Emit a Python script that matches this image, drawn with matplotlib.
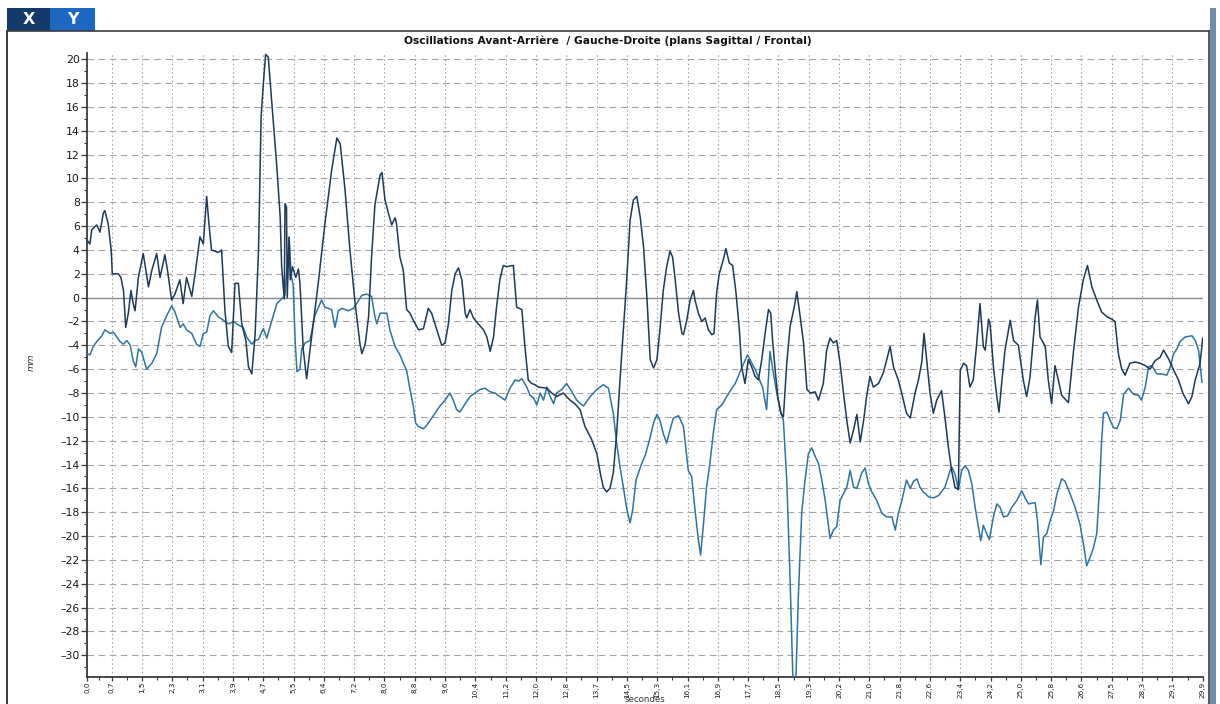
import numpy as np
import matplotlib
matplotlib.use("Agg")
import matplotlib.pyplot as plt
from matplotlib.patches import Rectangle
from matplotlib.lines import Line2D
from matplotlib.ticker import FixedLocator, MultipleLocator

plt.rcParams["font.family"] = ["DejaVu Sans"]

W, H = 1220, 704

# Antero-posterior trace (dark) : time in s, displacement in mm
t_sag = [0.00, 0.07, 0.12, 0.25, 0.34, 0.43, 0.47, 0.56, 0.64, 0.67, 0.83, 0.90, 0.97, 1.03, 1.10,
         1.17, 1.23, 1.28, 1.37, 1.50, 1.64, 1.73, 1.86, 1.95, 2.08, 2.15, 2.26, 2.35, 2.48, 2.57,
         2.66, 2.80, 2.89, 3.02, 3.11, 3.20, 3.26, 3.33, 3.51, 3.60, 3.69, 3.78, 3.87, 3.96, 4.05,
         4.14, 4.25, 4.32, 4.41, 4.50, 4.59, 4.66, 4.72, 4.78, 4.85, 4.94, 5.08, 5.17, 5.21, 5.28,
         5.30, 5.34, 5.36, 5.41, 5.44, 5.50, 5.59, 5.66, 5.70, 5.79, 5.88, 5.97, 6.19, 6.37, 6.55,
         6.69, 6.78, 6.91, 7.04, 7.18, 7.31, 7.36, 7.45, 7.54, 7.62, 7.71, 7.85, 7.90, 7.98, 8.07,
         8.16, 8.25, 8.29, 8.38, 8.47, 8.56, 8.65, 8.74, 8.88, 9.01, 9.14, 9.23, 9.37, 9.50, 9.59,
         9.68, 9.77, 9.86, 9.95, 10.04, 10.13, 10.17, 10.26, 10.35, 10.48, 10.62, 10.71, 10.80, 10.89, 10.97,
         11.06, 11.15, 11.24, 11.42, 11.51, 11.65, 11.73, 11.82, 11.91, 12.00, 12.09, 12.32, 12.45, 12.58, 12.76,
         12.94, 13.07, 13.21, 13.34, 13.52, 13.66, 13.75, 13.83, 13.92, 14.01, 14.10, 14.19, 14.28, 14.37, 14.46,
         14.55, 14.64, 14.73, 14.82, 14.91, 15.00, 15.09, 15.18, 15.27, 15.35, 15.44, 15.53, 15.62, 15.69, 15.76,
         15.85, 15.94, 15.98, 16.07, 16.16, 16.25, 16.29, 16.38, 16.47, 16.56, 16.65, 16.74, 16.80, 16.87, 16.94,
         17.05, 17.12, 17.21, 17.30, 17.39, 17.48, 17.54, 17.63, 17.72, 17.81, 17.90, 17.99, 18.08, 18.17, 18.26,
         18.32, 18.37, 18.44, 18.51, 18.59, 18.66, 18.75, 18.84, 18.95, 19.02, 19.11, 19.20, 19.29, 19.38, 19.51,
         19.60, 19.73, 19.82, 19.91, 20.00, 20.09, 20.18, 20.27, 20.36, 20.45, 20.54, 20.63, 20.72, 20.81, 20.89,
         20.98, 21.07, 21.21, 21.34, 21.43, 21.52, 21.61, 21.74, 21.83, 21.96, 22.06, 22.19, 22.28, 22.37, 22.43,
         22.50, 22.59, 22.68, 22.77, 22.90, 23.00, 23.08, 23.17, 23.26, 23.35, 23.40, 23.49, 23.57, 23.66, 23.75,
         23.84, 23.93, 24.02, 24.07, 24.16, 24.20, 24.29, 24.38, 24.44, 24.51, 24.60, 24.74, 24.83, 24.96, 25.09,
         25.18, 25.27, 25.41, 25.47, 25.54, 25.68, 25.76, 25.85, 25.94, 26.03, 26.12, 26.30, 26.44, 26.57, 26.70,
         26.81, 26.93, 27.06, 27.19, 27.33, 27.46, 27.55, 27.64, 27.73, 27.82, 27.95, 28.09, 28.22, 28.36, 28.49,
         28.62, 28.76, 28.85, 28.98, 29.11, 29.25, 29.38, 29.52, 29.61, 29.70, 29.83, 29.90]
v_sag = [4.8, 4.5, 5.7, 6.1, 5.5, 7.1, 7.3, 6.2, 4.0, 2.0, 2.0, 1.7, 0.6, -2.5, -1.3,
         0.6, -0.5, -1.1, 1.7, 3.7, 0.9, 2.3, 3.7, 1.7, 3.6, 2.3, -0.2, 0.3, 1.5, -0.5,
         1.7, 0.1, 2.0, 5.1, 4.5, 8.5, 6.2, 4.0, 3.8, 4.0, -1.1, -4.1, -4.6, 1.2, 1.2,
         -2.2, -3.6, -5.8, -6.4, -3.0, 4.0, 15.2, 18.0, 20.4, 20.2, 16.6, 11.0, 6.8, 2.6, -0.1,
         7.9, 7.6, 0.0, 5.1, 1.5, 2.6, 1.7, 2.4, 1.2, -4.4, -6.8, -4.4, 1.2, 6.2, 10.7,
         13.4, 12.9, 9.0, 4.0, -0.5, -3.9, -4.7, -3.9, -1.6, 3.4, 7.8, 10.3, 10.5, 8.2, 7.1,
         6.1, 6.7, 6.2, 3.4, 2.3, -1.0, -1.3, -1.9, -2.7, -2.6, -0.9, -1.3, -2.7, -4.0, -3.8,
         -2.2, 0.6, 2.0, 2.5, 1.5, -1.3, -1.7, -1.0, -1.7, -2.2, -2.7, -3.3, -4.5, -3.3, -0.8,
         1.5, 2.7, 2.6, 2.7, -0.8, -1.0, -4.1, -6.9, -7.2, -7.3, -7.5, -7.6, -8.0, -8.3, -8.0,
         -8.6, -8.9, -9.4, -10.8, -11.9, -13.1, -14.7, -15.9, -16.3, -16.0, -14.7, -11.4, -6.9, -2.7, 1.5,
         6.5, 8.2, 8.5, 6.8, 4.3, 0.1, -5.2, -5.9, -5.2, -2.7, 0.6, 2.6, 3.9, 3.4, 1.5,
         -1.3, -3.0, -3.1, -1.9, -0.2, 0.6, -0.2, -1.3, -2.0, -1.7, -2.7, -3.1, -3.0, 0.4, 2.0,
         3.2, 4.1, 2.9, 2.7, 0.4, -2.7, -5.8, -7.2, -5.2, -5.8, -6.6, -6.9, -5.2, -3.0, -1.0,
         -1.3, -3.6, -6.1, -8.3, -9.7, -10.0, -5.5, -2.4, -0.8, 0.5, -1.6, -3.8, -7.7, -8.0, -7.9,
         -8.6, -7.2, -4.4, -3.4, -3.8, -3.6, -5.5, -8.0, -10.3, -12.2, -11.1, -9.8, -12.1, -10.3, -8.3,
         -6.6, -7.5, -7.2, -6.3, -5.2, -4.1, -5.8, -6.9, -8.0, -9.7, -10.1, -8.0, -6.9, -5.4, -3.0,
         -5.2, -8.0, -9.7, -8.6, -7.8, -10.3, -12.5, -14.5, -15.9, -16.1, -6.1, -5.5, -5.7, -7.5, -6.9,
         -3.9, -0.5, -4.1, -4.4, -1.8, -2.2, -5.8, -8.3, -9.6, -7.2, -4.4, -1.9, -3.6, -4.0, -6.9,
         -8.3, -6.7, -1.6, -0.2, -3.3, -4.1, -6.9, -8.9, -5.7, -6.9, -8.2, -8.8, -4.4, -0.8, 1.5,
         2.7, 0.9, -0.2, -1.2, -1.6, -1.8, -2.0, -4.7, -6.0, -6.5, -5.5, -5.4, -5.5, -5.7, -6.0,
         -5.3, -5.0, -4.4, -5.1, -6.0, -6.9, -8.1, -8.9, -8.3, -6.9, -5.5, -3.4]

# Medio-lateral trace (light) : time in s, displacement in mm
t_front = [0.00, 0.07, 0.16, 0.25, 0.39, 0.47, 0.61, 0.70, 0.79, 0.88, 0.97, 1.06, 1.15, 1.23, 1.30,
           1.37, 1.46, 1.59, 1.73, 1.86, 1.99, 2.13, 2.26, 2.35, 2.49, 2.57, 2.66, 2.80, 2.93, 3.02,
           3.11, 3.20, 3.29, 3.38, 3.51, 3.65, 3.78, 3.92, 4.05, 4.18, 4.27, 4.41, 4.50, 4.59, 4.72,
           4.81, 4.94, 5.08, 5.21, 5.30, 5.36, 5.41, 5.46, 5.52, 5.57, 5.62, 5.70, 5.75, 5.84, 5.97,
           6.10, 6.28, 6.37, 6.55, 6.64, 6.73, 6.82, 7.00, 7.13, 7.22, 7.36, 7.49, 7.62, 7.71, 7.76,
           7.85, 8.03, 8.11, 8.25, 8.38, 8.47, 8.56, 8.65, 8.74, 8.80, 8.87, 9.01, 9.10, 9.19, 9.32,
           9.45, 9.59, 9.72, 9.81, 9.90, 9.99, 10.13, 10.26, 10.39, 10.53, 10.66, 10.80, 10.93, 11.06, 11.20,
           11.33, 11.47, 11.56, 11.65, 11.78, 11.87, 11.96, 12.05, 12.14, 12.23, 12.32, 12.41, 12.50, 12.58, 12.72,
           12.85, 12.99, 13.12, 13.30, 13.48, 13.66, 13.83, 13.97, 14.10, 14.19, 14.28, 14.37, 14.46, 14.55, 14.62,
           14.71, 14.85, 14.96, 15.09, 15.18, 15.27, 15.35, 15.44, 15.53, 15.62, 15.71, 15.85, 15.98, 16.11, 16.20,
           16.29, 16.38, 16.44, 16.52, 16.60, 16.69, 16.78, 16.87, 17.01, 17.14, 17.28, 17.37, 17.45, 17.54, 17.70,
           17.90, 18.10, 18.21, 18.30, 18.40, 18.50, 18.60, 18.66, 18.75, 18.84, 18.91, 18.95, 19.00, 19.06, 19.15,
           19.24, 19.33, 19.42, 19.51, 19.60, 19.69, 19.78, 19.87, 19.91, 20.00, 20.09, 20.18, 20.36, 20.45, 20.54,
           20.63, 20.76, 20.85, 20.94, 21.03, 21.16, 21.30, 21.43, 21.57, 21.66, 21.74, 21.83, 21.96, 22.06, 22.15,
           22.24, 22.32, 22.41, 22.55, 22.68, 22.82, 22.99, 23.13, 23.17, 23.26, 23.35, 23.44, 23.53, 23.62, 23.71,
           23.80, 23.89, 23.95, 24.02, 24.11, 24.18, 24.29, 24.38, 24.47, 24.56, 24.67, 24.78, 24.92, 25.05, 25.14,
           25.23, 25.41, 25.47, 25.56, 25.63, 25.72, 25.81, 25.90, 25.99, 26.12, 26.21, 26.35, 26.48, 26.61, 26.72,
           26.79, 26.88, 26.97, 27.06, 27.13, 27.19, 27.24, 27.33, 27.42, 27.51, 27.60, 27.69, 27.78, 27.91, 28.04,
           28.18, 28.26, 28.36, 28.45, 28.54, 28.67, 28.80, 28.94, 29.03, 29.12, 29.21, 29.29, 29.43, 29.61, 29.70,
           29.79, 29.88]
v_front = [-4.7, -4.8, -4.1, -3.7, -3.2, -2.7, -3.0, -2.9, -3.3, -3.7, -3.9, -3.6, -4.0, -5.3, -5.8,
           -4.3, -4.6, -6.0, -5.5, -4.7, -2.5, -1.5, -0.7, -1.2, -2.5, -2.2, -2.7, -3.0, -3.9, -4.1,
           -3.0, -2.9, -1.5, -1.1, -1.6, -1.9, -2.2, -2.0, -2.3, -2.5, -3.3, -3.9, -3.6, -3.5, -2.6,
           -3.4, -2.0, -0.5, -0.1, 0.2, 3.0, 5.0, 2.0, 1.0, -3.5, -6.2, -6.0, -4.3, -3.8, -3.6,
           -1.5, -0.2, -0.8, -1.0, -2.5, -1.1, -0.9, -1.1, -0.9, -0.5, 0.2, 0.3, 0.1, -1.6, -2.2,
           -1.3, -1.3, -2.7, -4.1, -4.8, -5.5, -6.1, -7.7, -9.1, -10.5, -10.8, -11.0, -10.7, -10.3, -9.7,
           -9.1, -8.6, -8.0, -8.6, -9.4, -9.6, -8.9, -8.3, -8.0, -7.7, -7.6, -7.9, -8.0, -8.3, -8.6,
           -7.6, -6.9, -7.0, -6.8, -7.5, -8.2, -8.4, -9.0, -8.0, -8.6, -7.5, -8.3, -8.9, -8.0, -7.7,
           -7.2, -7.9, -8.6, -9.1, -8.3, -7.7, -7.3, -7.6, -9.7, -12.2, -14.2, -15.9, -17.7, -18.9, -17.8,
           -15.3, -14.0, -13.2, -11.7, -10.5, -9.8, -10.3, -11.4, -12.2, -11.1, -10.1, -9.9, -10.8, -14.5, -15.0,
           -17.8, -20.3, -21.6, -18.9, -15.9, -13.9, -11.4, -9.4, -9.0, -8.3, -7.6, -7.2, -6.6, -5.9, -4.8,
           -6.0, -7.5, -9.4, -4.5, -6.5, -8.3, -9.7, -10.3, -15.3, -23.7, -31.5, -33.0, -31.5, -25.1, -18.1,
           -15.3, -13.1, -12.6, -13.3, -13.9, -15.3, -17.0, -19.2, -20.2, -19.5, -19.2, -17.0, -15.9, -14.5, -15.9,
           -16.0, -14.7, -14.3, -15.6, -16.3, -17.0, -18.1, -18.4, -18.4, -19.5, -18.1, -17.1, -15.3, -16.0, -15.4,
           -15.2, -15.9, -16.3, -16.7, -16.8, -16.6, -15.9, -14.5, -14.2, -14.8, -16.1, -14.5, -14.1, -14.5, -15.6,
           -17.6, -19.3, -20.4, -19.1, -19.8, -20.3, -18.4, -17.3, -17.6, -18.4, -18.3, -17.6, -17.0, -16.2, -16.8,
           -17.3, -17.2, -18.7, -22.4, -20.1, -19.8, -18.7, -17.9, -16.5, -15.2, -15.4, -16.5, -17.6, -19.0, -21.0,
           -22.5, -21.8, -21.0, -19.8, -16.2, -12.0, -9.7, -9.6, -10.3, -10.9, -11.0, -10.3, -8.1, -7.6, -8.1,
           -8.2, -8.6, -7.5, -5.8, -5.7, -6.4, -6.4, -6.5, -5.8, -4.7, -4.3, -3.7, -3.3, -3.2, -3.6,
           -4.4, -7.1]

x_tick_labels = ["0,0", "0,7", "1,5", "2,3", "3,1", "3,9", "4,7", "5,5", "6,4", "7,2",
                 "8,0", "8,8", "9,6", "10,4", "11,2", "12,0", "12,8", "13,7", "14,5", "15,3",
                 "16,1", "16,9", "17,7", "18,5", "19,3", "20,2", "21,0", "21,8", "22,6", "23,4",
                 "24,2", "25,0", "25,8", "26,6", "27,5", "28,3", "29,1", "29,9"]
y_ticks = list(range(-30, 21, 2))

title = "Oscillations Avant-Arrière  / Gauche-Droite (plans Sagittal / Frontal)"


def fx(px):
    return px / W


def fy(py):
    return 1 - py / H


fig = plt.figure(figsize=(W / 100, H / 100), dpi=100)
fig.patch.set_facecolor("white")

# plot area
ax_l, ax_r, ax_t, ax_b = 87.3, 1202.7, 53.3, 676.7
ax = fig.add_axes([fx(ax_l), fy(ax_b), fx(ax_r) - fx(ax_l), fy(ax_t) - fy(ax_b)])
ax.set_xlim(0, 29.9)
ax.set_ylim(-31.8, 20.5)

grid_col = "#a4a4a4"
xt = np.r_[0.0, np.linspace(0.654, 29.9, len(x_tick_labels) - 1)]
for x in xt[1:]:
    ax.axvline(x, color=grid_col, lw=0.8, ls=(0, (1.4, 2.4)), zorder=1)
for y in y_ticks:
    if y != 0:
        ax.axhline(y, color=grid_col, lw=0.8, ls=(0, (6, 4)), zorder=1)
ax.axhline(0, color="#8a8a8a", lw=1.0, zorder=1.5)

ax.plot(t_front, v_front, color="#2d74a4", lw=1.1, zorder=3)
ax.plot(t_sag, v_sag, color="#1d3a56", lw=1.1, zorder=3)

for s in ("top", "right"):
    ax.spines[s].set_visible(False)
for s in ("left", "bottom"):
    ax.spines[s].set_color("#3a3a3a")
    ax.spines[s].set_linewidth(1.3)

ax.yaxis.set_major_locator(FixedLocator(y_ticks))
ax.yaxis.set_minor_locator(MultipleLocator(1))
ax.set_yticklabels([str(v).replace("-", "\u2013") for v in y_ticks])
ax.xaxis.set_major_locator(FixedLocator(xt))
ax.xaxis.set_minor_locator(FixedLocator((xt[:-1] + xt[1:]) / 2))
ax.set_xticklabels(x_tick_labels, rotation=90)

ax.tick_params(axis="both", which="major", direction="out", width=0.9,
               color="#3a3a3a", labelcolor="#1a1a1a")
ax.tick_params(axis="both", which="minor", direction="out", length=2.0, width=0.8,
               color="#3a3a3a")
ax.tick_params(axis="y", which="major", length=4, labelsize=7.8, pad=1.5)
ax.tick_params(axis="x", which="major", length=3, labelsize=5.2, pad=0.5)

# axis captions
fig.text(fx(31), fy(362), "mm", rotation=90, ha="center", va="center",
         fontsize=6.5, style="italic", color="#333333")
fig.text(fx(645), fy(703.8), "secondes", ha="center", va="bottom",
         fontsize=6.2, color="#333333")
fig.text(fx(607.5), fy(41), title, ha="center", va="center",
         fontsize=7.7, fontweight="bold", color="#111111")

# outer panel frame
frame_col = "#3c3c3c"
fig.add_artist(Line2D([fx(7), fx(7)], [fy(31), fy(H + 2)], color=frame_col, lw=1.4,
                      transform=fig.transFigure))
fig.add_artist(Line2D([fx(7), fx(1208.5)], [fy(31), fy(31)], color=frame_col, lw=1.2,
                      transform=fig.transFigure))
fig.add_artist(Line2D([fx(1208.5), fx(1208.5)], [fy(31), fy(H + 2)], color=frame_col, lw=1.2,
                      transform=fig.transFigure))
fig.add_artist(Rectangle((fx(1210), fy(H)), fx(6), fy(8) - fy(H), transform=fig.transFigure,
                         facecolor="#6f8dad", edgecolor="none"))

# tab buttons
fig.add_artist(Rectangle((fx(7), fy(31)), fx(43), fy(8) - fy(31), transform=fig.transFigure,
                         facecolor="#123a6b", edgecolor="none"))
fig.add_artist(Rectangle((fx(50), fy(31)), fx(45), fy(8) - fy(31), transform=fig.transFigure,
                         facecolor="#1c68c0", edgecolor="none"))
fig.text(fx(28.5), fy(19.5), "X", ha="center", va="center", fontsize=11.5,
         fontweight="bold", color="white")
fig.text(fx(72.5), fy(19.5), "Y", ha="center", va="center", fontsize=11.5,
         fontweight="bold", color="white")

fig.savefig("out.png", dpi=100, facecolor="white")
